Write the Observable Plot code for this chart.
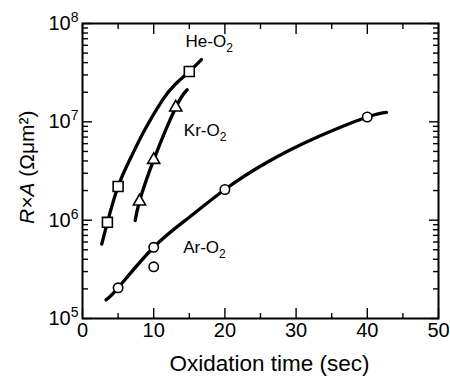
<!DOCTYPE html>
<html><head><meta charset="utf-8">
<script src="https://cdn.jsdelivr.net/npm/d3@7"></script>
<script src="https://cdn.jsdelivr.net/npm/@observablehq/plot@0.6"></script>
<style>
body{margin:0;background:#fff}
#chart svg{font-family:"Liberation Sans",Arial,Helvetica,sans-serif}
</style>
</head><body><div id="chart"></div>
<script>
// Measured points
const heTime = [3.5, 5, 15];
const heRA   = [9.5e5, 2.2e6, 3.25e7];
const krTime = [8, 10, 13.1];
const krRA   = [1.55e6, 4.1e6, 1.4e7];
const arTime = [5, 10, 10, 20, 40];
const arRA   = [2.05e5, 5.3e5, 3.35e5, 2.05e6, 1.12e7];

// Guide curves
const heFitTime = [2.7, 3.5, 5, 6.9, 8.75, 11.2, 13, 15, 16.7];
const heFitRA   = [5.7e5, 9.5e5, 2.2e6, 4.5e6, 8.3e6, 1.65e7, 2.4e7, 3.25e7, 4.3e7];
const krFitTime = [7.4, 8, 10, 13.1, 14.7];
const krFitRA   = [9.9e5, 1.55e6, 4.1e6, 1.4e7, 2.12e7];
const arFitTime = [3.3, 5, 10, 15, 20, 26, 33, 40, 42.7];
const arFitRA   = [1.55e5, 2.05e5, 5.3e5, 1.07e6, 2.05e6, 3.9e6, 7.0e6, 1.12e7, 1.25e7];

// Series labels
const seriesNames = ["He-O₂", "Kr-O₂", "Ar-O₂"];
const labelTime   = [14.47, 14.23, 14.14];
const labelRA     = [6.5e7, 8.2e6, 5.3e5];

// Ticks
const xMajor = [0, 10, 20, 30, 40, 50];
const xMinor = [5, 15, 25, 35, 45];
const yMajor = [1e5, 1e6, 1e7, 1e8];
const yExp   = ["5", "6", "7", "8"];
const yMinor = [1e5, 1e6, 1e7].flatMap(d => [2,3,4,5,6,7,8,9].map(m => m * d));

// Axis titles
const xLabel = "Oxidation time (sec)";
const yLabelItalic = "R×A";
const yLabelRest = " (Ωμm²)";
const yLabelPos = {t: -7.7, v: 2.41e6};
const yLabelCenter = 3.47e6;

const tab = (ts, vs) => ts.map((t, i) => ({t, v: vs[i]}));

const axisStyle = {stroke: "black", strokeWidth: 1.4};
const lineStyle = {x: "t", y: "v", curve: "natural", stroke: "black", strokeWidth: 3.3};

const chartSvg = Plot.plot({
  width: 450, height: 383,
  marginLeft: 82, marginRight: 12, marginTop: 23, marginBottom: 65,
  style: {fontSize: "20px", color: "black", background: "white", fontFamily: "'Liberation Sans', Arial, sans-serif"},
  x: {domain: [0, 50]},
  y: {type: "log", domain: [1e5, 1e8]},
  marks: [
    Plot.axisX(xMajor, {anchor: "bottom", tickSize: -10, tickPadding: 14, label: null, fontSize: 20, ...axisStyle, fill: "black"}),
    Plot.axisX(xMinor, {anchor: "bottom", tickSize: -5, fill: "none", label: null, ...axisStyle}),
    Plot.axisX(xMajor, {anchor: "top", tickSize: -10, fill: "none", label: null, ...axisStyle}),
    Plot.axisX(xMinor, {anchor: "top", tickSize: -5, fill: "none", label: null, ...axisStyle}),
    Plot.axisY(yMajor, {anchor: "left", tickSize: -10, tickPadding: 14, label: null, fontSize: 20,
      tickFormat: d => "10^" + yExp[yMajor.indexOf(d)], ...axisStyle, fill: "black"}),
    Plot.axisY(yMinor, {anchor: "left", tickSize: -6, fill: "none", label: null, ...axisStyle}),
    Plot.axisY(yMajor, {anchor: "right", tickSize: -10, fill: "none", label: null, ...axisStyle}),
    Plot.axisY(yMinor, {anchor: "right", tickSize: -6, fill: "none", label: null, ...axisStyle}),
    Plot.frame({stroke: "black", strokeWidth: 2}),
    Plot.line(tab(heFitTime, heFitRA), lineStyle),
    Plot.line(tab(krFitTime, krFitRA), lineStyle),
    Plot.line(tab(arFitTime, arFitRA), lineStyle),
    Plot.dot(tab(heTime, heRA), {x: "t", y: "v", symbol: "square", r: 5.6, fill: "white", stroke: "black", strokeWidth: 1.6}),
    Plot.dot(tab(krTime, krRA), {x: "t", y: "v", symbol: "triangle", r: 4.5, fill: "white", stroke: "black", strokeWidth: 1.6}),
    Plot.dot(tab(arTime, arRA), {x: "t", y: "v", symbol: "circle", r: 4.7, fill: "white", stroke: "black", strokeWidth: 1.6}),
    Plot.text(seriesNames.map((n, i) => ({n, t: labelTime[i], v: labelRA[i]})),
      {x: "t", y: "v", text: "n", textAnchor: "start", fontSize: 17, fill: "black"}),
    Plot.text([xLabel], {frameAnchor: "bottom", dy: 52, dx: 9, fontSize: 22.5, fill: "black"}),
    Plot.text([yLabelPos], {x: "t", y: "v", text: () => yLabelItalic, rotate: -90, textAnchor: "end",
      fontStyle: "italic", fontSize: 21, fill: "black"}),
    Plot.text([yLabelPos], {x: "t", y: "v", text: () => yLabelRest, rotate: -90, textAnchor: "start",
      fontSize: 21, fill: "black"})
  ]
});

// Rich text for tick labels and series names: superscripts, subscripts
const SVGNS = "http://www.w3.org/2000/svg";
function setParts(el, parts) {
  el.textContent = "";
  for (const p of parts) {
    const ts = document.createElementNS(SVGNS, "tspan");
    ts.textContent = p.t;
    if (p.size) ts.setAttribute("font-size", p.size);
    if (p.shift) ts.setAttribute("baseline-shift", p.shift);
    el.appendChild(ts);
  }
}
chartSvg.querySelectorAll("text").forEach(el => {
  const s = el.textContent;
  if (/^10\^\d$/.test(s)) {
    setParts(el, [{t: "10"}, {t: s.slice(3), size: 14, shift: "8"}]);
  } else if (s.endsWith("₂")) {
    setParts(el, [{t: s.slice(0, -1)}, {t: "2", size: 12, shift: "-5"}]);
  }
});

document.getElementById("chart").appendChild(chartSvg);

// Keep the rotated y title centred on its intended scale position
(function () {
  try {
    const yl = [...chartSvg.querySelectorAll("text")].filter(t => t.textContent === yLabelItalic || t.textContent === yLabelRest);
    const sb = chartSvg.getBoundingClientRect();
    let labelTop = Infinity, labelBottom = -Infinity;
    yl.forEach(t => {
      const b = t.getBoundingClientRect();
      labelTop = Math.min(labelTop, b.top - sb.top);
      labelBottom = Math.max(labelBottom, b.bottom - sb.top);
    });
    const target = chartSvg.scale("y").apply(yLabelCenter);
    const shift = isFinite(labelTop) ? target - (labelTop + labelBottom) / 2 : 0;
    if (isFinite(shift) && Math.abs(shift) > 2) {
      yl.forEach(t => {
        const g = t.parentNode;
        g.setAttribute("transform", `translate(0,${shift}) ` + (g.getAttribute("transform") || ""));
      });
    }
  } catch (e) { /* leave label as rendered */ }
})();
</script>
</body></html>
